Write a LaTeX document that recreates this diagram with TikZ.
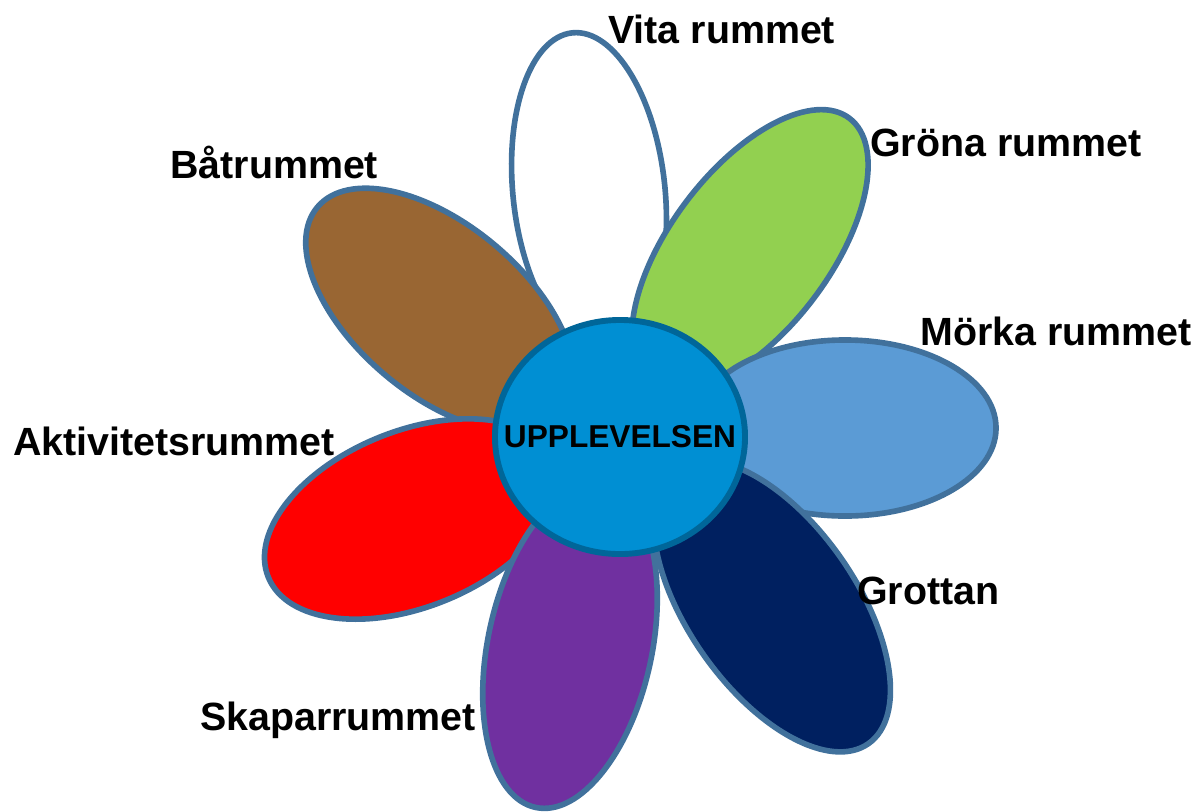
\documentclass[tikz,border=0pt]{standalone}
\usepackage{fontspec}
\setmainfont{Liberation Sans}
\usepackage{tikz}
\usetikzlibrary{shapes.geometric, positioning}
\definecolor{petalline}{RGB}{65,113,156}
\definecolor{hubline}{RGB}{0,102,153}
\definecolor{hubfill}{RGB}{0,143,211}
\definecolor{gron}{RGB}{146,208,80}
\definecolor{ljusbla}{RGB}{91,155,213}
\definecolor{marin}{RGB}{0,32,96}
\definecolor{lila}{RGB}{112,48,160}
\definecolor{rod}{RGB}{255,0,0}
\definecolor{brun}{RGB}{153,102,51}

\begin{document}
\begin{tikzpicture}[x=0.025cm, y=-0.025cm,
      petal/.style={ellipse, draw=petalline, line width=4pt, inner sep=0pt},
      hub/.style={ellipse, draw=hubline, fill=hubfill, line width=4.2pt, inner sep=0pt},
      hubtext/.style={font=\bfseries\fontsize{22.5}{24}\selectfont, inner sep=0pt},
      room/.style={font=\bfseries\fontsize{28}{32}\selectfont, anchor=base west, inner sep=0pt},
    ]
    \useasboundingbox (0,0) rectangle (1203,811);
    % petals, back to front
    \node[petal, fill=white, minimum width=8cm, minimum height=3.8cm, rotate=96] (vita) at (589,192) {};
    \node[petal, fill=brun, minimum width=8cm, minimum height=4.25cm, rotate=-40] (batr) at (440,310) {};
    \node[petal, fill=gron, minimum width=8.25cm, minimum height=4cm, rotate=53] (grona) at (750,250) {};
    \node[petal, fill=rod, minimum width=7.75cm, minimum height=4.4cm, rotate=22] (aktiv) at (412,519) {};
    \node[petal, fill=ljusbla, minimum width=7.55cm, minimum height=4.4cm] (morka) at (845,428) {};
    \node[petal, fill=marin, minimum width=8.4cm, minimum height=4.2cm, rotate=-55] (grottan) at (772,606) {};
    \node[petal, fill=lila, minimum width=8.25cm, minimum height=4.1cm, rotate=78] (skapar) at (570,646) {};
    \node[hub, minimum width=6.25cm, minimum height=5.85cm] (upp) at (620,437) {};
    \node[hubtext] (upptext) at (upp.center) {UPPLEVELSEN};
    % labels
    \node[room] (vitalbl) at (608,43) {Vita rummet};
    \node[room] (gronalbl) at (870,156) {Gröna rummet};
    \node[room] (batrlbl) at (170,178) {Båtrummet};
    \node[room] (morkalbl) at (920,345) {Mörka rummet};
    \node[room] (aktivlbl) at (13,455) {Aktivitetsrummet};
    \node[room] (grottanlbl) at (857,604) {Grottan};
    \node[room] (skaparlbl) at (200,730) {Skaparrummet};
  \end{tikzpicture}
\end{document}
